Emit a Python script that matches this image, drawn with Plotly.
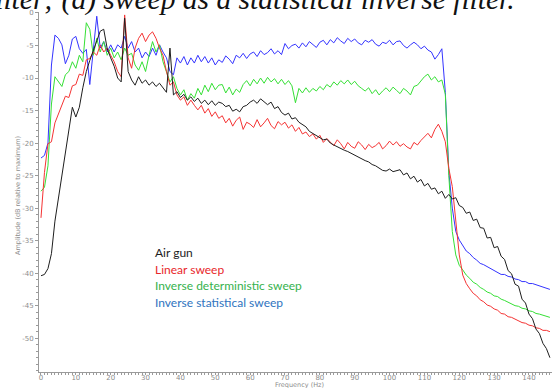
import plotly.graph_objects as go

# Frequency grid (Hz)
freq_hz = list(range(0, 147))

# Amplitude spectra, dB relative to maximum
air_gun = [
    -40.4, -40.2, -39.3, -37.0, -32.0, -28.5, -25.0, -22.0, -18.5, -14.5,
    -16.0, -14.5, -11.5, -9.0, -7.3, -5.8, -4.2, -2.8, -2.5, -5.5,
    -6.9, -8.2, -10.0, -10.6, -0.8, -9.0, -10.3, -11.1, -9.8, -10.8,
    -10.3, -11.1, -10.6, -11.3, -10.8, -11.6, -12.2, -5.4, -12.6, -12.1,
    -13.0, -12.5, -13.4, -12.9, -13.6, -13.1, -13.9, -13.4, -14.1, -13.5,
    -14.2, -13.7, -13.9, -14.4, -14.2, -15.1, -14.8, -15.2, -14.4, -14.2,
    -13.7, -13.4, -13.9, -13.2, -13.6, -14.1, -13.7, -14.7, -14.4, -15.3,
    -15.7, -15.4, -16.3, -16.1, -16.8, -17.2, -17.5, -18.2, -18.5, -18.9,
    -19.2, -19.5, -19.4, -20.0, -20.3, -20.6, -20.8, -21.1, -21.3, -21.6,
    -21.9, -22.1, -22.4, -22.7, -22.9, -23.3, -23.5, -23.8, -24.2, -24.3,
    -24.0, -24.4, -24.2, -24.1, -24.9, -24.6, -25.5, -25.1, -26.0, -25.6,
    -26.6, -26.2, -27.1, -26.9, -27.8, -27.4, -28.5, -27.9, -28.6, -28.4,
    -29.6, -29.9, -30.8, -30.6, -31.9, -31.7, -33.0, -33.1, -34.6, -34.5,
    -36.1, -35.9, -37.4, -37.9, -39.6, -40.1, -41.7, -42.0, -44.0, -44.6,
    -46.3, -47.0, -48.6, -49.3, -50.8, -51.6, -53.0,
]

linear_sweep = [
    -31.5, -24.5, -20.1, -19.8, -16.9, -15.5, -14.0, -12.8, -13.0, -11.2,
    -11.0, -9.4, -9.6, -7.2, -7.0, -6.0, -6.5, -4.9, -6.0, -5.4,
    -6.5, -7.5, -9.0, -9.8, -0.3, -6.9, -8.5, -5.4, -3.9, -3.1,
    -4.4, -3.4, -2.9, -3.9, -5.4, -6.5, -9.0, -11.1, -10.6, -12.6,
    -13.4, -12.9, -14.2, -13.4, -14.2, -14.9, -14.2, -15.4, -14.7, -15.9,
    -15.2, -16.2, -15.8, -16.9, -16.2, -17.4, -16.5, -16.0, -17.9, -16.8,
    -17.1, -17.6, -16.4, -17.5, -16.9, -16.2, -17.3, -17.8, -16.7, -17.2,
    -16.8, -17.7, -17.2, -18.2, -17.6, -18.6, -18.3, -19.0, -18.6, -19.4,
    -18.8, -19.9, -19.3, -19.8, -20.4, -19.5, -20.1, -20.9, -19.9, -20.5,
    -20.8, -19.8, -20.3, -21.0, -20.2, -20.7, -20.4, -19.9, -20.9, -20.4,
    -19.7, -20.3, -19.8, -20.5, -20.1, -20.6, -20.9, -19.9, -20.3, -19.6,
    -19.0, -18.5, -19.2, -17.9, -17.1, -18.2, -19.8, -23.9, -26.7, -31.6,
    -37.2, -40.3, -41.6, -42.4, -43.1, -43.5, -44.1, -44.4, -44.9, -45.1,
    -45.5, -45.7, -46.2, -46.3, -46.7, -46.8, -47.1, -47.3, -47.6, -47.7,
    -48.0, -48.1, -48.4, -48.5, -48.8, -48.8, -49.0,
]

inverse_deterministic = [
    -27.4, -26.8, -23.5, -14.0, -9.8, -10.6, -11.3, -9.5, -9.0, -7.5,
    -8.5, -6.5, -7.5, -1.5, -2.5, -6.5, -3.9, -6.0, -4.4, -6.5,
    -5.4, -6.9, -6.0, -7.2, -5.4, -6.5, -6.2, -8.0, -8.8, -7.5,
    -9.0, -6.5, -4.4, -6.0, -4.9, -7.5, -9.0, -10.6, -9.8, -11.6,
    -12.6, -11.8, -13.4, -12.4, -13.1, -11.6, -12.6, -11.1, -12.1, -10.8,
    -11.8, -11.1, -11.0, -12.3, -11.4, -12.6, -11.7, -12.2, -11.0, -10.4,
    -11.2, -10.2, -10.9, -10.0, -10.8, -9.9, -10.6, -10.1, -10.9, -10.2,
    -11.0, -10.4, -11.2, -13.8, -11.6, -12.3, -11.5, -12.2, -11.6, -12.0,
    -11.3, -11.8, -11.0, -11.4, -10.6, -11.1, -10.4, -10.9, -10.3, -11.0,
    -10.5, -11.2, -11.6, -12.0, -11.5, -12.4, -11.8, -12.6, -12.0, -11.5,
    -12.1, -11.4, -11.9, -12.4, -11.6, -12.0, -12.6, -11.3, -11.1, -10.5,
    -9.8, -9.4, -10.3, -9.8, -10.6, -10.3, -12.5, -25.0, -33.6, -37.2,
    -38.8, -39.5, -40.3, -40.8, -41.4, -41.7, -42.2, -42.5, -42.9, -43.1,
    -43.5, -43.6, -44.0, -44.2, -44.5, -44.7, -45.0, -45.1, -45.4, -45.5,
    -45.8, -45.9, -46.2, -46.3, -46.5, -46.6, -46.8,
]

inverse_statistical = [
    -22.3, -21.9, -20.0, -8.0, -3.4, -3.9, -4.9, -7.8, -6.5, -4.0,
    -3.6, -5.5, -6.2, -5.6, -11.0, -6.0, -0.5, -5.4, -4.4, -6.0,
    -4.9, -6.0, -4.9, -5.4, -3.6, -5.4, -4.4, -6.0, -5.4, -6.9,
    -6.0, -6.7, -5.4, -6.5, -4.9, -6.0, -6.9, -9.0, -9.5, -6.9,
    -7.7, -6.7, -8.0, -6.9, -7.7, -6.5, -7.5, -6.7, -7.7, -6.9,
    -8.0, -7.2, -7.6, -6.6, -7.1, -7.8, -6.5, -6.9, -6.2, -7.0,
    -6.3, -6.0, -6.7, -5.8, -6.4, -6.1, -5.5, -6.3, -5.8, -6.4,
    -4.7, -5.5, -5.0, -4.8, -5.4, -4.6, -5.2, -4.4, -4.9, -5.3,
    -4.5, -4.2, -4.9, -4.1, -4.6, -3.8, -4.3, -4.7, -3.9, -4.4,
    -4.0, -4.6, -4.9, -4.2, -4.5, -4.1, -4.8, -5.1, -4.5, -4.7,
    -4.2, -4.9, -4.4, -4.3, -5.0, -5.4, -4.9, -4.5, -4.9, -5.5,
    -5.1, -5.7, -6.0, -7.1, -6.4, -5.5, -12.2, -24.4, -30.0, -33.6,
    -34.9, -35.7, -36.6, -37.0, -37.6, -38.0, -38.5, -38.7, -39.0, -39.2,
    -39.6, -39.8, -40.2, -40.2, -40.5, -40.6, -40.9, -41.0, -41.3, -41.3,
    -41.6, -41.6, -41.8, -41.9, -42.2, -42.3, -42.5,
]

series_names = ["Inverse statistical sweep", "Inverse deterministic sweep",
                "Linear sweep", "Air gun"]
series_values = [inverse_statistical, inverse_deterministic, linear_sweep, air_gun]
line_colors = ["#3434ff", "#35e035", "#f53333", "#1e1e1e"]

# Axis ticks
x_tick_vals = [0, 10, 20, 30, 40, 50, 60, 70, 80, 90, 100, 110, 120, 130, 140]
x_tick_text = ["0", "10", "20", "30", "40", "50", "60", "70", "80", "90",
               "100", "110", "120", "130", "140"]
y_tick_vals = [0, -5, -10, -15, -20, -25, -30, -35, -40, -45, -50]
y_tick_text = ["0", "-5", "-10", "-15", "-20", "-25", "-30", "-35", "-40", "-45", "-50"]

# Key text, listed top to bottom
key_labels = ["Air gun", "Linear sweep", "Inverse deterministic sweep",
              "Inverse statistical sweep"]
key_colors = ["#1e1e1e", "#e8262b", "#35b24d", "#2f74c0"]

W, H = 552, 388
ML, MR, MT, MB = 39, 0, 12, 16
PW, PH = W - ML - MR, H - MT - MB


def px_to_paper(xp, yp):
    return (xp - ML) / PW, (H - MB - yp) / PH


fig = go.Figure()
for name, vals, col in zip(series_names, series_values, line_colors):
    fig.add_trace(go.Scatter(x=freq_hz, y=vals, mode="lines", name=name,
                             line=dict(color=col, width=1), hoverinfo="skip"))

axis_grey = "#9a9a9a"
tick_font = dict(family="DejaVu Sans", size=7, color="#8c8c8c")

fig.update_xaxes(range=[-0.57, 146.6], showline=True, linecolor=axis_grey,
                 linewidth=1, showgrid=False, zeroline=False,
                 tickmode="array", tickvals=x_tick_vals, ticktext=x_tick_text,
                 ticks="outside", ticklen=2, tickcolor=axis_grey, tickfont=tick_font,
                 ticklabelstandoff=-3,
                 minor=dict(tickmode="linear", tick0=0, dtick=1, ticks="outside",
                            ticklen=2, tickcolor=axis_grey, showgrid=False),
                 automargin=False)
fig.update_yaxes(range=[-55.2, 0.15], showline=True, linecolor=axis_grey,
                 linewidth=1, showgrid=False, zeroline=False,
                 tickmode="array", tickvals=y_tick_vals, ticktext=y_tick_text,
                 ticks="outside", ticklen=3, tickcolor=axis_grey, tickfont=tick_font,
                 minor=dict(tickmode="linear", tick0=0, dtick=1, ticks="outside",
                            ticklen=2, tickcolor=axis_grey, showgrid=False),
                 automargin=False)

annotations = []
# Key text
key_y = [252, 269, 285.5, 302]
for label, col, yp in zip(key_labels, key_colors, key_y):
    ax, ay = px_to_paper(153, yp)
    annotations.append(dict(x=ax, y=ay, xref="paper", yref="paper", text=label,
                            showarrow=False, xanchor="left", yanchor="middle",
                            font=dict(family="Lato", size=12, color=col)))

# Axis titles
tx, ty = px_to_paper(299, 384.5)
annotations.append(dict(x=tx, y=ty, xref="paper", yref="paper", text="Frequency (Hz)",
                        showarrow=False, xanchor="center", yanchor="middle",
                        font=dict(family="DejaVu Sans", size=6.5, color="#8c8c8c")))
tx, ty = px_to_paper(18, 196)
annotations.append(dict(x=tx, y=ty, xref="paper", yref="paper",
                        text="Amplitude (dB relative to maximum)", textangle=-90,
                        showarrow=False, xanchor="center", yanchor="middle",
                        font=dict(family="DejaVu Sans", size=6.5, color="#8c8c8c")))

# Caption line running across the top edge
tx, ty = px_to_paper(517, -0.5)
annotations.append(dict(x=tx, y=ty, xref="paper", yref="paper",
                        text="<i>filter; (d) sweep as a statistical inverse filter.</i>",
                        showarrow=False, xanchor="right", yanchor="middle",
                        font=dict(family="Liberation Serif", size=29.5, color="#111111")))

fig.update_layout(width=W, height=H, margin=dict(l=ML, r=MR, t=MT, b=MB),
                  paper_bgcolor="white", plot_bgcolor="white", showlegend=False,
                  annotations=annotations)

fig.write_html("out.html")
